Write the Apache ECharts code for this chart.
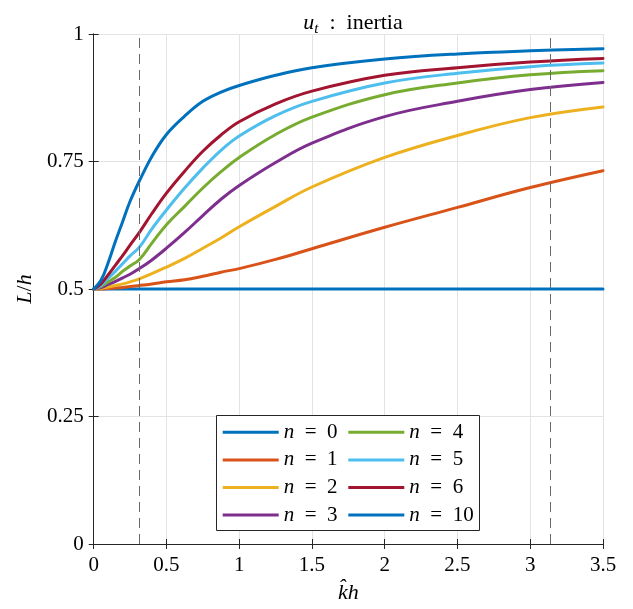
<!DOCTYPE html>
<html>
<head>
<meta charset="utf-8">
<script src="https://cdn.jsdelivr.net/npm/echarts@6/dist/echarts.min.js"></script>
<style>
  html, body { margin: 0; padding: 0; background: #fff; }
  #chart { width: 633px; height: 609px; }
</style>
</head>
<body>
<div id="chart"></div>
<script>
// sample positions along k^h
var khat = [0, 0.05, 0.1, 0.15, 0.2, 0.25, 0.314, 0.4, 0.5, 0.625, 0.75, 0.875, 1, 1.25, 1.5, 2, 2.5, 3, 3.5];

// L/h, one array per n
var n0  = [0.5, 0.5, 0.5, 0.5, 0.5, 0.5, 0.5, 0.5, 0.5, 0.5, 0.5, 0.5, 0.5, 0.5, 0.5, 0.5, 0.5, 0.5, 0.5];
var n1  = [0.5, 0.500, 0.501, 0.502, 0.503, 0.505, 0.507, 0.510, 0.514, 0.518, 0.525, 0.533, 0.540, 0.558, 0.579, 0.621, 0.660, 0.699, 0.732];
var n2  = [0.5, 0.501, 0.504, 0.507, 0.510, 0.514, 0.520, 0.530, 0.543, 0.560, 0.580, 0.600, 0.622, 0.662, 0.700, 0.758, 0.801, 0.836, 0.857];
var n3  = [0.5, 0.503, 0.509, 0.515, 0.522, 0.529, 0.540, 0.557, 0.580, 0.611, 0.644, 0.676, 0.703, 0.748, 0.786, 0.838, 0.868, 0.891, 0.905];
var n4  = [0.5, 0.505, 0.514, 0.523, 0.535, 0.545, 0.558, 0.590, 0.626, 0.662, 0.698, 0.730, 0.758, 0.803, 0.837, 0.881, 0.904, 0.920, 0.928];
var n5  = [0.5, 0.507, 0.521, 0.535, 0.550, 0.565, 0.582, 0.618, 0.655, 0.698, 0.737, 0.772, 0.800, 0.840, 0.868, 0.904, 0.923, 0.936, 0.943];
var n6  = [0.5, 0.510, 0.528, 0.547, 0.566, 0.586, 0.611, 0.648, 0.688, 0.731, 0.770, 0.802, 0.828, 0.863, 0.888, 0.919, 0.934, 0.945, 0.952];
var n10 = [0.5, 0.517, 0.552, 0.594, 0.633, 0.672, 0.712, 0.760, 0.803, 0.839, 0.868, 0.886, 0.899, 0.919, 0.934, 0.951, 0.961, 0.967, 0.971];

var nLabels = ['0', '1', '2', '3', '4', '5', '6', '10'];
var curves = [n0, n1, n2, n3, n4, n5, n6, n10];
var colors = ['#0072BD', '#D95319', '#EDB120', '#7E2F8E', '#77AC30', '#4DBEEE', '#A2142F', '#0072BD'];

// dashed reference lines (pi/10 and pi)
var dashX = [0.3142, 3.1416];

var xTicks = { min: 0, max: 3.5, interval: 0.5 };
var yTicks = { min: 0, max: 1, interval: 0.25 };

var FONT = 'Liberation Serif';
var INK = '#262626';

var chart = echarts.init(document.getElementById('chart'));

var series = curves.map(function (ys, i) {
  var s = {
    name: 'n = ' + nLabels[i],
    type: 'line',
    data: khat.map(function (x, j) { return [x, ys[j]]; }),
    showSymbol: false,
    smooth: 0.4,
    lineStyle: { width: 3, color: colors[i], join: 'round', cap: 'round' },
    itemStyle: { color: colors[i] },
    z: 3
  };
  if (i === 0) {
    s.markLine = {
      silent: true,
      symbol: 'none',
      label: { show: false },
      lineStyle: { type: [10, 6], color: '#6a6a6a', width: 1 },
      data: dashX.map(function (v) { return { xAxis: v }; })
    };
  }
  return s;
});

function legendBlock(left, names) {
  return {
    left: left,
    top: 421.8,
    orient: 'vertical',
    padding: 0,
    itemGap: 6.6,
    itemWidth: 56,
    itemHeight: 3,
    icon: 'rect',
    selectedMode: false,
    z: 60,
    data: names,
    formatter: function (name) {
      return '{i|n}  =  ' + name.split('= ')[1];
    },
    textStyle: {
      fontFamily: FONT,
      fontSize: 21,
      lineHeight: 21,
      color: '#000',
      rich: {
        i: { fontFamily: FONT, fontSize: 21, fontStyle: 'italic', color: '#000', lineHeight: 21 }
      }
    }
  };
}

var names = series.map(function (s) { return s.name; });

chart.setOption({
  animation: false,
  backgroundColor: '#fff',
  title: {
    text: '{i|u}{s|t}  :  inertia',
    left: 348,
    textAlign: 'center',
    top: 4,
    textStyle: {
      fontFamily: FONT,
      fontSize: 22,
      fontWeight: 'normal',
      color: '#000',
      rich: {
        i: { fontFamily: FONT, fontSize: 22, fontStyle: 'italic', color: '#000', lineHeight: 28 },
        s: { fontFamily: FONT, fontSize: 15, fontStyle: 'italic', color: '#000', lineHeight: 16, verticalAlign: 'bottom' }
      }
    }
  },
  legend: [legendBlock(222.7, names.slice(0, 4)), legendBlock(348.3, names.slice(4))],
  graphic: [{
    type: 'rect',
    z: 50,
    shape: { x: 216.5, y: 415.5, width: 263, height: 115 },
    style: { fill: '#fff', stroke: INK, lineWidth: 1 }
  }],
  grid: { left: 93.7, right: 30, top: 34, bottom: 62, containLabel: false },
  xAxis: [{
    type: 'value',
    min: xTicks.min, max: xTicks.max, interval: xTicks.interval,
    name: 'k\u0302h',
    nameLocation: 'middle',
    nameGap: 38,
    nameTextStyle: { fontFamily: FONT, fontSize: 22, fontStyle: 'italic', color: '#000' },
    axisLine: { lineStyle: { color: INK, width: 1 } },
    axisTick: { inside: true, length: 5, lineStyle: { color: INK } },
    axisLabel: { fontFamily: FONT, fontSize: 21, color: '#000', margin: 11 },
    splitLine: { show: true, lineStyle: { color: '#e3e3e3', width: 1 } }
  }, {
    type: 'value', position: 'top',
    min: xTicks.min, max: xTicks.max, interval: xTicks.interval,
    axisLine: { lineStyle: { color: INK, width: 1 } },
    axisTick: { inside: true, length: 5, lineStyle: { color: INK } },
    axisLabel: { show: false },
    splitLine: { show: false }
  }],
  yAxis: [{
    type: 'value',
    min: yTicks.min, max: yTicks.max, interval: yTicks.interval,
    name: '{i|L}/{i|h}',
    nameLocation: 'middle',
    nameGap: 55,
    nameTextStyle: {
      fontFamily: FONT, fontSize: 22, color: '#000',
      rich: { i: { fontFamily: FONT, fontSize: 22, fontStyle: 'italic', color: '#000' } }
    },
    axisLine: { show: true, lineStyle: { color: INK, width: 1 } },
    axisTick: { show: true, inside: true, length: 5, lineStyle: { color: INK } },
    axisLabel: { fontFamily: FONT, fontSize: 21, color: '#000', margin: 10 },
    splitLine: { show: true, lineStyle: { color: '#e3e3e3', width: 1 } }
  }, {
    type: 'value', position: 'right',
    min: yTicks.min, max: yTicks.max, interval: yTicks.interval,
    axisLine: { show: true, lineStyle: { color: INK, width: 1 } },
    axisTick: { show: true, inside: true, length: 5, lineStyle: { color: INK } },
    axisLabel: { show: false },
    splitLine: { show: false }
  }],
  series: series
});
</script>
</body>
</html>
